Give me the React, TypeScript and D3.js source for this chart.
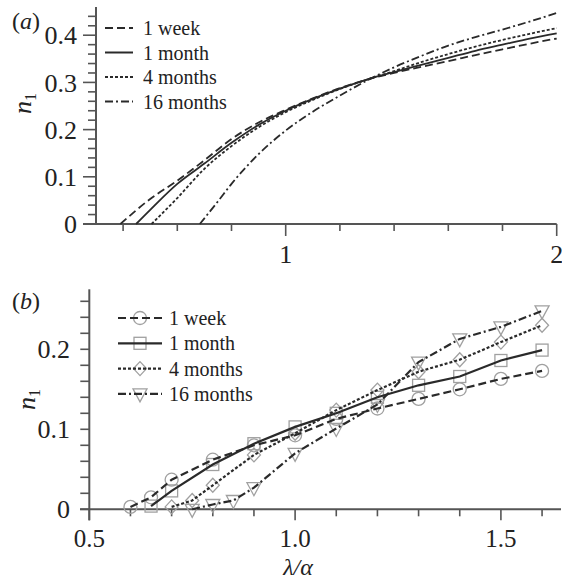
import React from "react";
import * as d3 from "d3";

// panel (a): smooth curves of n1 against lambda/alpha
const aWeekX = [0.39, 0.5, 0.6, 0.7, 0.8, 0.9, 1.0, 1.1, 1.2, 1.3, 1.4, 1.5, 1.6, 1.7, 1.8, 1.9, 2.0];
const aWeekY = [0, 0.053, 0.092, 0.135, 0.18, 0.215, 0.242, 0.266, 0.288, 0.306, 0.32, 0.333, 0.345, 0.358, 0.37, 0.382, 0.393];
const aMonthX = [0.448, 0.5, 0.6, 0.7, 0.8, 0.9, 1.0, 1.1, 1.2, 1.3, 1.4, 1.5, 1.6, 1.7, 1.8, 1.9, 2.0];
const aMonthY = [0, 0.03, 0.085, 0.128, 0.172, 0.21, 0.24, 0.265, 0.287, 0.306, 0.322, 0.337, 0.352, 0.367, 0.38, 0.393, 0.404];
const a4MonthX = [0.505, 0.6, 0.7, 0.8, 0.9, 1.0, 1.1, 1.2, 1.3, 1.4, 1.5, 1.6, 1.7, 1.8, 1.9, 2.0];
const a4MonthY = [0, 0.055, 0.117, 0.165, 0.205, 0.237, 0.263, 0.286, 0.306, 0.324, 0.343, 0.36, 0.376, 0.39, 0.403, 0.415];
const a16MonthX = [0.683, 0.75, 0.8, 0.9, 1.0, 1.1, 1.2, 1.3, 1.4, 1.5, 1.6, 1.7, 1.8, 1.9, 2.0];
const a16MonthY = [0, 0.048, 0.085, 0.148, 0.198, 0.238, 0.272, 0.304, 0.332, 0.356, 0.378, 0.396, 0.412, 0.429, 0.447];

// panel (b): measured points with markers
const bWeekX = [0.6, 0.65, 0.7, 0.8, 0.9, 1.0, 1.1, 1.2, 1.3, 1.4, 1.5, 1.6];
const bWeekY = [0.003, 0.015, 0.037, 0.062, 0.08, 0.0925, 0.113, 0.126, 0.138, 0.15, 0.163, 0.173];
const bMonthX = [0.65, 0.7, 0.8, 0.9, 1.0, 1.1, 1.2, 1.3, 1.4, 1.5, 1.6];
const bMonthY = [0.004, 0.023, 0.056, 0.082, 0.103, 0.12, 0.14, 0.155, 0.166, 0.186, 0.199];
const b4MonthX = [0.7, 0.75, 0.8, 0.9, 1.0, 1.1, 1.2, 1.3, 1.4, 1.5, 1.6];
const b4MonthY = [0.003, 0.011, 0.03, 0.068, 0.095, 0.124, 0.149, 0.172, 0.187, 0.209, 0.23];
const b16MonthX = [0.75, 0.8, 0.85, 0.9, 1.0, 1.1, 1.2, 1.3, 1.4, 1.5, 1.6];
const b16MonthY = [0.0, 0.006, 0.011, 0.027, 0.07, 0.101, 0.131, 0.184, 0.213, 0.228, 0.248];

const labels = ["1 week", "1 month", "4 months", "16 months"];
const dashes = ["8,4", "none", "3,2", "8,3,2,3"];
const markers = ["circle", "square", "diamond", "triangle"];

const txt = { fontFamily: "'Liberation Serif', 'Times New Roman', 'DejaVu Serif', serif" };
const axisColor = "#555";
const lineColor = "#2a2a2a";
const markColor = "#a0a0a0";

const zip = (xs: number[], ys: number[]) => xs.map((x, i) => [x, ys[i]] as [number, number]);

function Marker({ kind, x, y }: { kind: string; x: number; y: number }) {
  const p = { fill: "none", stroke: markColor, strokeWidth: 1.3 };
  if (kind === "circle") return <circle cx={x} cy={y} r={6.5} {...p} />;
  if (kind === "square") return <rect x={x - 6} y={y - 6} width={12} height={12} {...p} />;
  if (kind === "diamond")
    return <path d={`M${x},${y - 7}L${x + 6.5},${y}L${x},${y + 7}L${x - 6.5},${y}Z`} {...p} />;
  return <path d={`M${x - 7},${y - 5}L${x + 7},${y - 5}L${x},${y + 8}Z`} {...p} />;
}

function PanelA() {
  const x = d3.scaleLinear().domain([0.3, 2]).range([96, 556.7]);
  const y = d3.scaleLinear().domain([0, 0.46]).range([224, 6.9]);
  const line = d3
    .line<[number, number]>()
    .x((d) => x(d[0]))
    .y((d) => y(d[1]))
    .curve(d3.curveMonotoneX);
  const series = [zip(aWeekX, aWeekY), zip(aMonthX, aMonthY), zip(a4MonthX, a4MonthY), zip(a16MonthX, a16MonthY)];
  const yTicks = d3.range(0, 23).map((i) => i * 0.02);
  const xTicks = d3.range(2, 11).map((i) => i * 0.2);
  return (
    <g>
      <line x1={83} x2={x(2)} y1={y(0)} y2={y(0)} stroke={axisColor} strokeWidth={2} />
      <line x1={x(0.3)} x2={x(0.3)} y1={y(0.46)} y2={y(0)} stroke={axisColor} strokeWidth={2} />
      {yTicks.map((t, i) => {
        const major = i % 5 === 0;
        return (
          <g key={i}>
            <line x1={x(0.3) - (major ? 13 : 8)} x2={x(0.3)} y1={y(t)} y2={y(t)} stroke={axisColor} strokeWidth={1.6} />
            {major && (
              <text x={77} y={y(t)} dy="0.35em" textAnchor="end" fontSize={26} style={txt} fill="#222">
                {i === 0 ? "0" : d3.format(".1f")(t)}
              </text>
            )}
          </g>
        );
      })}
      {xTicks.map((t, i) => {
        const major = Math.abs(t - 1) < 1e-6 || Math.abs(t - 2) < 1e-6;
        return (
          <g key={i}>
            <line x1={x(t)} x2={x(t)} y1={y(0)} y2={y(0) + (major ? 12 : 7)} stroke={axisColor} strokeWidth={1.6} />
            {major && (
              <text x={x(t)} y={263} textAnchor="middle" fontSize={26} style={txt} fill="#222">
                {d3.format("d")(t)}
              </text>
            )}
          </g>
        );
      })}
      {series.map((s, i) => (
        <path key={i} d={line(s) || ""} fill="none" stroke={lineColor} strokeWidth={1.8}
          strokeDasharray={dashes[i]} />
      ))}
      {labels.map((l, i) => {
        const ly = 28 + i * 24.5;
        return (
          <g key={l}>
            <line x1={105} x2={133} y1={ly} y2={ly} stroke={lineColor} strokeWidth={2} strokeDasharray={dashes[i]} />
            <text x={143} y={ly + 7} fontSize={20} style={txt} fill="#222">{l}</text>
          </g>
        );
      })}
      <text x={12} y={29} fontSize={24} style={txt} fill="#222">
        (<tspan fontStyle="italic">a</tspan>)
      </text>
      <text transform="translate(31,114) rotate(-90)" fontSize={26} style={txt} fill="#222">
        <tspan fontStyle="italic">n</tspan>
        <tspan fontSize={16} dy={5}>1</tspan>
      </text>
    </g>
  );
}

function PanelB() {
  const x = d3.scaleLinear().domain([0.5, 1.646]).range([89.3, 561]);
  const y = d3.scaleLinear().domain([0, 0.275]).range([509.3, 289.3]);
  const line = d3
    .line<[number, number]>()
    .x((d) => x(d[0]))
    .y((d) => y(d[1]));
  const series = [zip(bWeekX, bWeekY), zip(bMonthX, bMonthY), zip(b4MonthX, b4MonthY), zip(b16MonthX, b16MonthY)];
  const yTicks = d3.range(0, 14).map((i) => i * 0.02);
  const xTicks = d3.range(5, 17).map((i) => i / 10);
  return (
    <g>
      <line x1={80} x2={561} y1={y(0)} y2={y(0)} stroke={axisColor} strokeWidth={2} />
      <line x1={x(0.5)} x2={x(0.5)} y1={y(0.275)} y2={y(0) + 11} stroke={axisColor} strokeWidth={2} />
      {yTicks.map((t, i) => (
        <g key={i}>
          <line x1={x(0.5) - 9} x2={x(0.5)} y1={y(t)} y2={y(t)} stroke={axisColor} strokeWidth={1.6} />
          {i % 5 === 0 && (
            <text x={70} y={y(t)} dy="0.35em" textAnchor="end" fontSize={26} style={txt} fill="#222">
              {i === 0 ? "0" : d3.format(".1f")(t)}
            </text>
          )}
        </g>
      ))}
      {xTicks.map((t, i) => {
        const major = i % 5 === 0;
        return (
          <g key={i}>
            <line x1={x(t)} x2={x(t)} y1={y(0)} y2={y(0) + (major ? 11 : 7)} stroke={axisColor} strokeWidth={1.6} />
            {major && (
              <text x={x(t)} y={547} textAnchor="middle" fontSize={25} style={txt} fill="#222">
                {d3.format(".1f")(t)}
              </text>
            )}
          </g>
        );
      })}
      {series.map((s, i) => (
        <g key={"m" + i}>
          {s.map((d, j) => (
            <Marker key={j} kind={markers[i]} x={x(d[0])} y={y(d[1])} />
          ))}
        </g>
      ))}
      {series.map((s, i) => (
        <path key={i} d={line(s) || ""} fill="none" stroke={lineColor} strokeWidth={2.2}
          strokeDasharray={dashes[i]} />
      ))}
      {labels.map((l, i) => {
        const ly = 318 + i * 25.3;
        return (
          <g key={l}>
            <Marker kind={markers[i]} x={140} y={ly} />
            <line x1={118} x2={162} y1={ly} y2={ly} stroke={lineColor} strokeWidth={2.2} strokeDasharray={dashes[i]} />
            <text x={169} y={ly + 7} fontSize={20} style={txt} fill="#222">{l}</text>
          </g>
        );
      })}
      <text x={12} y={309} fontSize={24} style={txt} fill="#222">
        (<tspan fontStyle="italic">b</tspan>)
      </text>
      <text transform="translate(35,410) rotate(-90)" fontSize={26} style={txt} fill="#222">
        <tspan fontStyle="italic">n</tspan>
        <tspan fontSize={16} dy={5}>1</tspan>
      </text>
      <text x={298} y={575} textAnchor="middle" fontSize={24} fontStyle="italic" style={txt} fill="#222">
        λ/α
      </text>
    </g>
  );
}

export default function App() {
  return (
    <svg width={562} height={580} style={{ position: "absolute", left: 0, top: 0, background: "#fff" }}>
      <PanelA />
      <PanelB />
    </svg>
  );
}
